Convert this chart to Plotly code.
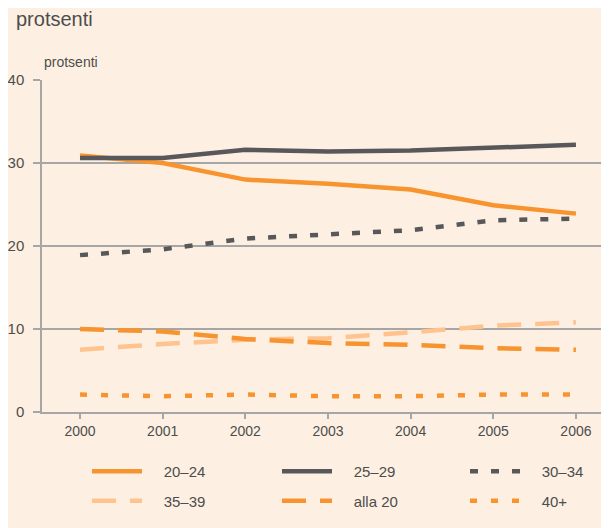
import plotly.graph_objects as go

# vuosi / year
years = [2000, 2001, 2002, 2003, 2004, 2005, 2006]

# osuus, protsenti
age_20_24 = [30.9, 30.0, 28.0, 27.5, 26.8, 24.9, 23.9]
age_25_29 = [30.6, 30.6, 31.6, 31.4, 31.5, 31.8, 32.2]
age_30_34 = [18.9, 19.6, 20.9, 21.4, 21.9, 23.1, 23.3]
age_35_39 = [7.5, 8.2, 8.7, 8.9, 9.6, 10.4, 10.8]
alla_20 = [10.0, 9.7, 8.8, 8.3, 8.1, 7.7, 7.5]
age_40 = [2.1, 1.9, 2.1, 1.9, 1.9, 2.1, 2.1]

ORANGE = "#f7942f"
GREY = "#58585a"
PEACH = "#fec38e"
BG = "#fdf0e2"
GRID = "#a6a6a6"
TXT = "#4d4d4d"
FONT = "Liberation Sans"
PAD = "\u00a0" * 4  # extra gap between legend line and text

# page body has an 8px margin, so the figure is 8px smaller each way
W, H = 601, 520

series = [
    ("20–24", age_20_24, ORANGE, "solid", "legend"),
    ("35–39", age_35_39, PEACH, "24px,14px", "legend"),
    ("25–29", age_25_29, GREY, "solid", "legend2"),
    ("alla 20", alla_20, ORANGE, "24px,14px", "legend2"),
    ("30–34", age_30_34, GREY, "8px,13px", "legend3"),
    ("40+", age_40, ORANGE, "7px,14px", "legend3"),
]

fig = go.Figure()
for name, vals, col, dash, leg in series:
    fig.add_trace(go.Scatter(
        x=years, y=vals, name=PAD + name, mode="lines",
        line=dict(color=col, width=4.5, dash=dash),
        legend=leg, legendgroup=name,
    ))

def leg(xpx):
    return dict(
        xref="container", yref="container",
        x=xpx / W, y=1 - 447 / H, xanchor="left", yanchor="top",
        orientation="v", bgcolor="rgba(0,0,0,0)",
        font=dict(family=FONT, size=15, color=TXT),
        tracegroupgap=7, itemwidth=50,
    )

fig.update_layout(
    width=W, height=H,
    paper_bgcolor=BG, plot_bgcolor=BG,
    margin=dict(l=34, r=0, t=72, b=116, autoexpand=False),
    font=dict(family=FONT, size=14, color=TXT),
    title=dict(text="protsenti", x=8 / W, xanchor="left",
               yref="container", y=1 - 11 / H, yanchor="middle",
               font=dict(family=FONT, size=20, color=TXT)),
    showlegend=True,
    legend=leg(79), legend2=leg(269), legend3=leg(457),
    xaxis=dict(
        range=[1999.54, 2006.4], tickvals=years, showgrid=False,
        showline=True, linecolor=GRID, linewidth=1.5,
        ticks="outside", ticklen=5, tickcolor=GRID, tickwidth=1.5,
        tickfont=dict(size=14, color=TXT), zeroline=False,
    ),
    yaxis=dict(
        range=[0, 40], tickvals=[0, 10, 20, 30, 40],
        showgrid=True, gridcolor=GRID, gridwidth=1.5,
        showline=True, linecolor=GRID, linewidth=1.5,
        ticks="outside", ticklen=7, tickcolor=GRID, tickwidth=1.5,
        tickfont=dict(size=15, color=TXT), zeroline=False,
        ticklabelstandoff=6,
    ),
    annotations=[dict(
        text="protsenti", xref="paper", yref="paper", x=0, y=1,
        xanchor="left", yanchor="bottom", yshift=8, showarrow=False,
        font=dict(family=FONT, size=14, color=TXT),
    )],
)

fig.write_html("out.html")
